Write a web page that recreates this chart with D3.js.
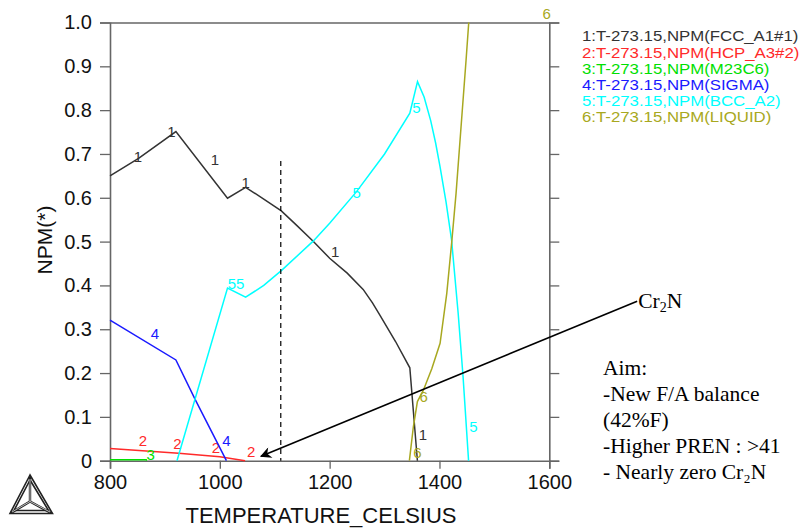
<!DOCTYPE html>
<html>
<head>
<meta charset="utf-8">
<script src="https://cdn.jsdelivr.net/npm/d3@7"></script>
<style>
  body { margin: 0; background: #fff; }
  svg text { font-family: "Liberation Sans", Arial, sans-serif; }
  .note { font-family: "Liberation Serif", "Times New Roman", serif; }
</style>
</head>
<body>
<div id="chartContainer"></div>
<script>
// Dimensions of svg
const width = 804;
const height = 530;
const plot = { left: 110, right: 549.3, top: 22.5, bottom: 460.7 };

// Data: [temperature, NPM]
const fccA1 = [[800, 0.650], [852, 0.690], [920, 0.751], [1014, 0.599], [1047, 0.624], [1080, 0.597],
  [1112, 0.570], [1140, 0.537], [1170, 0.501], [1200, 0.462], [1232, 0.428], [1261, 0.391],
  [1278, 0.360], [1292, 0.331], [1320, 0.272], [1346, 0.212], [1359.8, 0]];
const hcpA3 = [[800, 0.028], [925, 0.017], [1000, 0.009], [1046, 0]];
const m23c6 = [[800, 0.002], [866, 0.002], [867, 0]];
const sigma = [[800, 0.321], [920, 0.230], [955, 0.140], [1012, 0]];
const bccA2 = [[922, 0], [1014, 0.394], [1047, 0.373], [1080, 0.400], [1113, 0.435], [1170, 0.501],
  [1200, 0.542], [1249, 0.614], [1300, 0.700], [1346, 0.793], [1360, 0.865], [1372, 0.830],
  [1384, 0.776], [1393, 0.725], [1401, 0.671], [1412, 0.590], [1422, 0.504], [1434, 0.337],
  [1443, 0.191], [1453, 0]];
const liquid = [[1345.2, 0], [1352.5, 0.078], [1359.8, 0.135], [1370.7, 0.161], [1386, 0.210],
  [1401.1, 0.268], [1413.3, 0.382], [1422.4, 0.500], [1430.2, 0.610], [1439.3, 0.762],
  [1448.4, 0.914], [1453.3, 1.0]];

// Curve labels along each line: [temperature, NPM]
const fccLabels = [[851, 0.694], [912, 0.749], [991, 0.686], [1047, 0.633], [1210, 0.477], [1370, 0.059]];
const hcpLabels = [[860, 0.046], [923, 0.037], [993, 0.028], [1057, 0.019]];
const m23Labels = [[874, 0.013]];
const sigmaLabels = [[882, 0.290], [1012, 0.046]];
const bccLabels = [[1022, 0.403], [1037, 0.403], [1249, 0.612], [1358, 0.806], [1462, 0.078]];
const liquidLabels = [[1371, 0.146], [1360, 0.017], [1595, 1.019]];

const legendNames = ['FCC_A1#1', 'HCP_A3#2', 'M23C6', 'SIGMA', 'BCC_A2', 'LIQUID'];
const colors = ['#333333', '#ff2a2a', '#00e000', '#1a1aff', '#00ffff', '#a8a820'];

const xTicks = [800, 1000, 1200, 1400, 1600];
const yTicks = [0, 0.1, 0.2, 0.3, 0.4, 0.5, 0.6, 0.7, 0.8, 0.9, 1.0];

const dashedAt = 1111;
const dashedTop = 0.684;
const arrowFrom = [1760, 0.364];
const arrowTo = [1075, 0.01];
const aimLines = ['Aim:', '-New F/A balance', '(42%F)', '-Higher PREN : >41', '- Nearly zero Cr\u2082N'];

const series = [
  { data: fccA1, labels: fccLabels },
  { data: hcpA3, labels: hcpLabels },
  { data: m23c6, labels: m23Labels },
  { data: sigma, labels: sigmaLabels },
  { data: bccA2, labels: bccLabels },
  { data: liquid, labels: liquidLabels }
];

const svg = d3
  .select('#chartContainer')
  .append('svg')
  .attr('width', width)
  .attr('height', height);

const x = d3.scaleLinear().domain([800, 1600]).range([plot.left, plot.right]);
const y = d3.scaleLinear().domain([0, 1]).range([plot.bottom, plot.top]);

// Axes: frame with outward ticks
svg.append('g')
  .attr('class', 'x axis')
  .attr('transform', `translate(0,${plot.bottom})`)
  .call(d3.axisBottom(x).tickValues(xTicks).tickSize(8).tickPadding(6).tickFormat(d3.format('d')));
svg.append('g')
  .attr('class', 'y axis')
  .attr('transform', `translate(${plot.left},0)`)
  .call(d3.axisLeft(y).tickValues(yTicks).tickSize(10).tickPadding(8)
    .tickFormat(d => d === 0 ? '0' : d3.format('.1f')(d)));
svg.append('g')
  .attr('class', 'y2 axis')
  .attr('transform', `translate(${plot.right},0)`)
  .call(d3.axisRight(y).tickValues(yTicks).tickSize(10).tickFormat(''));
svg.append('g')
  .attr('class', 'x2 axis')
  .attr('transform', `translate(0,${plot.top})`)
  .call(d3.axisTop(x).tickValues([]).tickSizeOuter(0));

svg.selectAll('.axis path').attr('stroke', '#666').attr('stroke-width', 1.6);
svg.selectAll('.axis line').attr('stroke', '#666').attr('stroke-width', 1.3);
svg.selectAll('.axis text').attr('fill', '#111').style('font-size', '20px');

// Axis titles
svg.append('text')
  .attr('x', 321)
  .attr('y', 523)
  .attr('text-anchor', 'middle')
  .style('font-size', '22px')
  .attr('fill', '#111')
  .text('TEMPERATURE_CELSIUS');
svg.append('text')
  .attr('transform', 'translate(52,240) rotate(-90)')
  .attr('text-anchor', 'middle')
  .style('font-size', '21px')
  .attr('fill', '#111')
  .text('NPM(*)');

// Lines
const lineValue = d3.line().x(d => x(d[0])).y(d => y(d[1]));
series.forEach((s, i) => {
  svg.append('path')
    .attr('d', lineValue(s.data))
    .attr('fill', 'none')
    .attr('stroke', colors[i])
    .attr('stroke-width', 1.5);
  svg.selectAll(`.lab${i}`)
    .data(s.labels)
    .enter()
    .append('text')
    .attr('class', `lab${i}`)
    .attr('x', d => x(d[0]))
    .attr('y', d => y(d[1]) + 5)
    .attr('text-anchor', 'middle')
    .style('font-size', '15px')
    .attr('fill', colors[i])
    .text(i + 1);
});

// Dashed marker line
svg.append('line')
  .attr('x1', x(dashedAt)).attr('x2', x(dashedAt))
  .attr('y1', y(dashedTop)).attr('y2', y(0))
  .attr('stroke', '#000')
  .attr('stroke-width', 1.2)
  .attr('stroke-dasharray', '5,4');

// Legend (glyphs a bit wider than the font, as in the original export)
svg.append('g')
  .attr('transform', 'translate(582,0) scale(1.12,1)')
  .selectAll('.legend')
  .data(legendNames)
  .enter()
  .append('text')
  .attr('class', 'legend')
  .attr('x', 0)
  .attr('y', (d, i) => 41.5 + i * 16.2)
  .style('font-size', '15px')
  .attr('fill', (d, i) => colors[i])
  .text((d, i) => `${i + 1}:T-273.15,NPM(${d})`);

// Arrow annotation
svg.append('defs').append('marker')
  .attr('id', 'head')
  .attr('viewBox', '0 0 10 10')
  .attr('refX', 9).attr('refY', 5)
  .attr('markerWidth', 9).attr('markerHeight', 7)
  .attr('orient', 'auto')
  .append('path')
  .attr('d', 'M0,0L10,5L0,10L3,5Z')
  .attr('fill', '#000');
svg.append('line')
  .attr('x1', x(arrowFrom[0])).attr('y1', y(arrowFrom[1]))
  .attr('x2', x(arrowTo[0])).attr('y2', y(arrowTo[1]))
  .attr('stroke', '#000')
  .attr('stroke-width', 1.6)
  .attr('marker-end', 'url(#head)');

const cr = svg.append('text')
  .attr('class', 'note')
  .attr('x', x(arrowFrom[0]) + 1)
  .attr('y', y(arrowFrom[1]) + 7)
  .style('font-size', '21.5px');
cr.append('tspan').text('Cr');
cr.append('tspan').style('font-size', '14px').attr('dy', 4).text('2');
cr.append('tspan').attr('dy', -4).text('N');

svg.selectAll('.aim')
  .data(aimLines)
  .enter()
  .append('text')
  .attr('class', 'note aim')
  .attr('x', 603)
  .attr('y', (d, i) => 375 + i * 26)
  .style('font-size', '21.5px')
  .text(d => d);

// Thermo-Calc logo
const logo = svg.append('g').attr('fill', 'none').attr('stroke', '#222');
[[30, 475, 10, 513.5, 52.5, 513.5], [30, 480, 14, 510.5, 48.5, 510.5]].forEach(t => {
  logo.append('path')
    .attr('d', `M${t[0]},${t[1]}L${t[2]},${t[3]}L${t[4]},${t[5]}Z`)
    .attr('stroke-width', 1.6);
});
[[30, 477], [11, 513], [51, 513]].forEach(p => {
  logo.append('line')
    .attr('x1', 30).attr('y1', 501.5)
    .attr('x2', p[0]).attr('y2', p[1])
    .attr('stroke-width', 2.4);
});
logo.append('g').attr('stroke', '#fff').attr('stroke-width', 0.7)
  .selectAll('line')
  .data([[30, 479], [12, 512], [50, 512]])
  .enter()
  .append('line')
  .attr('x1', 30).attr('y1', 501.5)
  .attr('x2', d => d[0]).attr('y2', d => d[1]);
</script>
</body>
</html>
